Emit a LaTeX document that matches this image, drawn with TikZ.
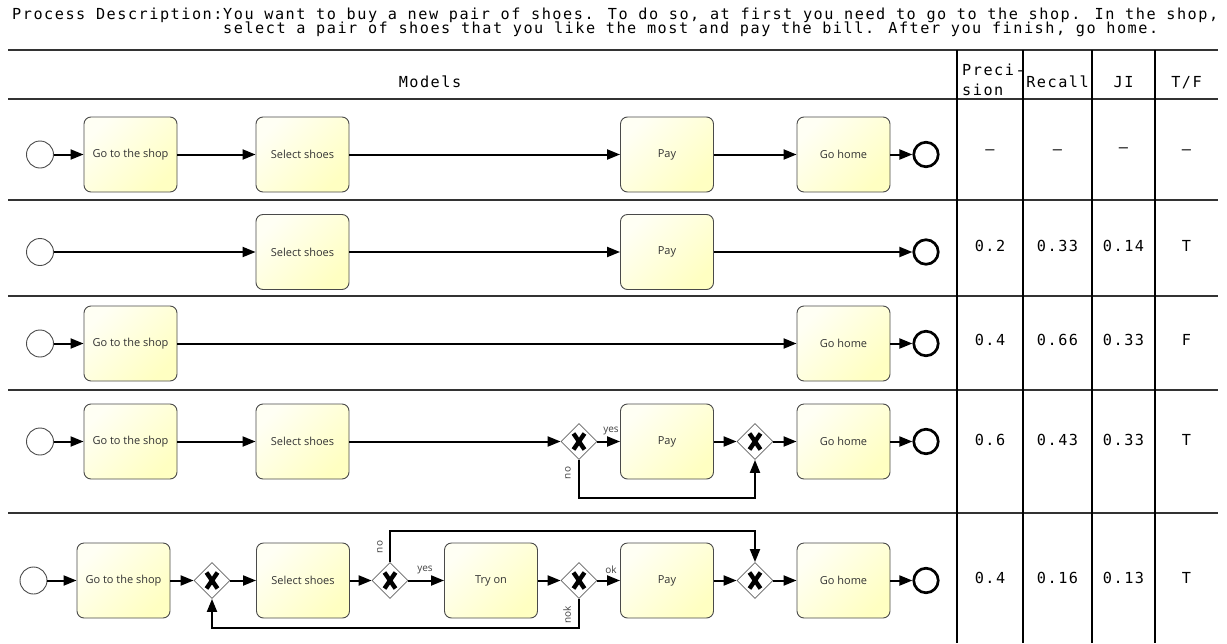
\documentclass[tikz,border=0pt]{standalone}
\usepackage{fontspec}
\newfontfamily\monof[LetterSpace=10]{DejaVu Sans Mono}
\newfontfamily\bpmnf{Open Sans}
\usetikzlibrary{arrows.meta,shapes.geometric,calc}
\definecolor{taskA}{HTML}{FFFFF4}
\definecolor{taskB}{HTML}{FFFFC2}
\definecolor{taskline}{HTML}{4A4A4A}
\begin{document}
\begin{tikzpicture}[x=1pt,y=-1pt,
  mono/.style={font=\monof\fontsize{15.2}{17}\selectfont, inner sep=0pt, text=black},
  task/.style={draw=taskline, line width=0.9pt, rounded corners=7pt,
    minimum width=93pt, minimum height=75pt, inner sep=0pt,
    shading=axis, top color=taskA, bottom color=taskB, shading angle=45,
    font=\bpmnf\fontsize{11}{13}\selectfont, text=black!80},
  startev/.style={circle, draw=black!70, line width=0.9pt, fill=white, minimum size=27pt, inner sep=0pt},
  endev/.style={circle, draw=black, line width=2.7pt, fill=white, minimum size=24.5pt, inner sep=0pt},
  gw/.style={diamond, draw=black!60, line width=0.8pt, fill=white,
    minimum width=36pt, minimum height=36pt, inner sep=0pt,
    path picture={\draw[line width=4.4pt,black]
      ([shift={(-5.5pt,-8pt)}]path picture bounding box.center) -- ([shift={(5.5pt,8pt)}]path picture bounding box.center)
      ([shift={(-5.5pt,8pt)}]path picture bounding box.center) -- ([shift={(5.5pt,-8pt)}]path picture bounding box.center);}},
  flow/.style={draw=black, line width=2pt, -{Triangle[length=13pt,width=10pt]}},
  lbl/.style={font=\bpmnf\fontsize{10}{12}\selectfont, text=black!75, inner sep=0pt},
  hrule/.style={draw=black!80, line width=1.5pt},
  vrule/.style={draw=black, line width=1.2pt}
]
\useasboundingbox (0,0) rectangle (1227,643);
\fill[white] (0,0) rectangle (1227,643);

% title
\node[mono, anchor=base west] (pd) at (12,19.5) {Process Description:};
\node[mono, anchor=base west] (t1) at (223,19.5) {You want to buy a new pair of shoes. To do so, at first you need to go to the shop. In the shop,};
\node[mono, anchor=base west] (t2) at (223,33.5) {select a pair of shoes that you like the most and pay the bill. After you finish, go home.};

% table rules
\foreach \yy in {50,99,200,296,390,513} {\draw[hrule] (8,\yy) -- (1218,\yy);}
\foreach \xx in {957,1023,1092,1155} {\draw[vrule] (\xx,50) -- (\xx,643);}

% header
\node[mono, anchor=base] (hm) at (430,87) {Models};
\node[mono, anchor=base west] (hp1) at (962,75) {Preci-};
\node[mono, anchor=base west] (hp2) at (962,95) {sion};
\node[mono, anchor=base] (hr) at (1057.5,87) {Recall};
\node[mono, anchor=base] (hj) at (1123.5,87) {JI};
\node[mono, anchor=base] (ht) at (1186.5,87) {T/F};

% values
\node[mono, anchor=base] (v11) at (990,154.5) {–};
\node[mono, anchor=base] (v12) at (1057.5,154.5) {–};
\node[mono, anchor=base] (v13) at (1123.5,152) {–};
\node[mono, anchor=base] (v14) at (1186.5,154.5) {–};
\node[mono, anchor=base] (v21) at (990,251.5) {0.2};
\node[mono, anchor=base] (v22) at (1057.5,251.5) {0.33};
\node[mono, anchor=base] (v23) at (1123.5,251.5) {0.14};
\node[mono, anchor=base] (v24) at (1186.5,251.5) {T};
\node[mono, anchor=base] (v31) at (990,345) {0.4};
\node[mono, anchor=base] (v32) at (1057.5,345) {0.66};
\node[mono, anchor=base] (v33) at (1123.5,345) {0.33};
\node[mono, anchor=base] (v34) at (1186.5,345) {F};
\node[mono, anchor=base] (v41) at (990,445) {0.6};
\node[mono, anchor=base] (v42) at (1057.5,445) {0.43};
\node[mono, anchor=base] (v43) at (1123.5,445) {0.33};
\node[mono, anchor=base] (v44) at (1186.5,445) {T};
\node[mono, anchor=base] (v51) at (990,583.5) {0.4};
\node[mono, anchor=base] (v52) at (1057.5,583.5) {0.16};
\node[mono, anchor=base] (v53) at (1123.5,583.5) {0.13};
\node[mono, anchor=base] (v54) at (1186.5,583.5) {T};

% ---------- row 1
\node[startev] (r1s) at (40,154.5) {};
\node[task] (r1a) at (130.5,154.5) {Go to the shop};
\node[task] (r1b) at (302.5,154.5) {Select shoes};
\node[task] (r1c) at (667,154.5) {Pay};
\node[task] (r1d) at (843.5,154.5) {Go home};
\node[endev] (r1e) at (926,154.5) {};
\draw[flow] (r1s) -- (r1a);
\draw[flow] (r1a) -- (r1b);
\draw[flow] (r1b) -- (r1c);
\draw[flow] (r1c) -- (r1d);
\draw[flow] (r1d) -- (r1e);

% ---------- row 2
\node[startev] (r2s) at (40,252) {};
\node[task] (r2b) at (302.5,252) {Select shoes};
\node[task] (r2c) at (667,252) {Pay};
\node[endev] (r2e) at (926,252) {};
\draw[flow] (r2s) -- (r2b);
\draw[flow] (r2b) -- (r2c);
\draw[flow] (r2c) -- (r2e);

% ---------- row 3
\node[startev] (r3s) at (40,343.5) {};
\node[task] (r3a) at (130.5,343.5) {Go to the shop};
\node[task] (r3d) at (843.5,343.5) {Go home};
\node[endev] (r3e) at (926,343.5) {};
\draw[flow] (r3s) -- (r3a);
\draw[flow] (r3a) -- (r3d);
\draw[flow] (r3d) -- (r3e);

% ---------- row 4
\node[startev] (r4s) at (40,441.5) {};
\node[task] (r4a) at (130.5,441.5) {Go to the shop};
\node[task] (r4b) at (302.5,441.5) {Select shoes};
\node[gw] (r4g1) at (579,441.5) {};
\node[task] (r4c) at (667,441.5) {Pay};
\node[gw] (r4g2) at (755,441.5) {};
\node[task] (r4d) at (843.5,441.5) {Go home};
\node[endev] (r4e) at (926,441.5) {};
\coordinate (r4lp) at (667,498);
\draw[flow] (r4s) -- (r4a);
\draw[flow] (r4a) -- (r4b);
\draw[flow] (r4b) -- (r4g1);
\draw[flow] (r4g1) -- (r4c);
\draw[flow] (r4c) -- (r4g2);
\draw[flow] (r4g2) -- (r4d);
\draw[flow] (r4d) -- (r4e);
\draw[flow] (r4g1.south) |- (r4lp) -| (r4g2.south);
\node[lbl] (r4yes) at (611,431) {yes};
\node[lbl, rotate=90] (r4no) at (568,473) {no};

% ---------- row 5
\node[startev] (r5s) at (33.5,580.5) {};
\node[task] (r5a) at (123.5,580.5) {Go to the shop};
\node[gw] (r5g1) at (212,580.5) {};
\node[task] (r5b) at (303,580.5) {Select shoes};
\node[gw] (r5g2) at (390,580.5) {};
\node[task] (r5t) at (491,580.5) {Try on};
\node[gw] (r5g3) at (579,580.5) {};
\node[task] (r5c) at (667,580.5) {Pay};
\node[gw] (r5g4) at (755,580.5) {};
\node[task] (r5d) at (843.5,580.5) {Go home};
\node[endev] (r5e) at (926,580.5) {};
\coordinate (r5lp) at (400,628);
\coordinate (r5up) at (570,531);
\draw[flow] (r5s) -- (r5a);
\draw[flow] (r5a) -- (r5g1);
\draw[flow] (r5g1) -- (r5b);
\draw[flow] (r5b) -- (r5g2);
\draw[flow] (r5g2) -- (r5t);
\draw[flow] (r5t) -- (r5g3);
\draw[flow] (r5g3) -- (r5c);
\draw[flow] (r5c) -- (r5g4);
\draw[flow] (r5g4) -- (r5d);
\draw[flow] (r5d) -- (r5e);
\draw[flow] (r5g3.south) |- (r5lp) -| (r5g1.south);
\draw[flow] (r5g2.north) |- (r5up) -| (r5g4.north);
\node[lbl] (r5yes) at (425,570) {yes};
\node[lbl] (r5ok) at (611,570) {ok};
\node[lbl, rotate=90] (r5nok) at (567,615) {nok};
\node[lbl, rotate=90] (r5no) at (380,547) {no};
\end{tikzpicture}
\end{document}
